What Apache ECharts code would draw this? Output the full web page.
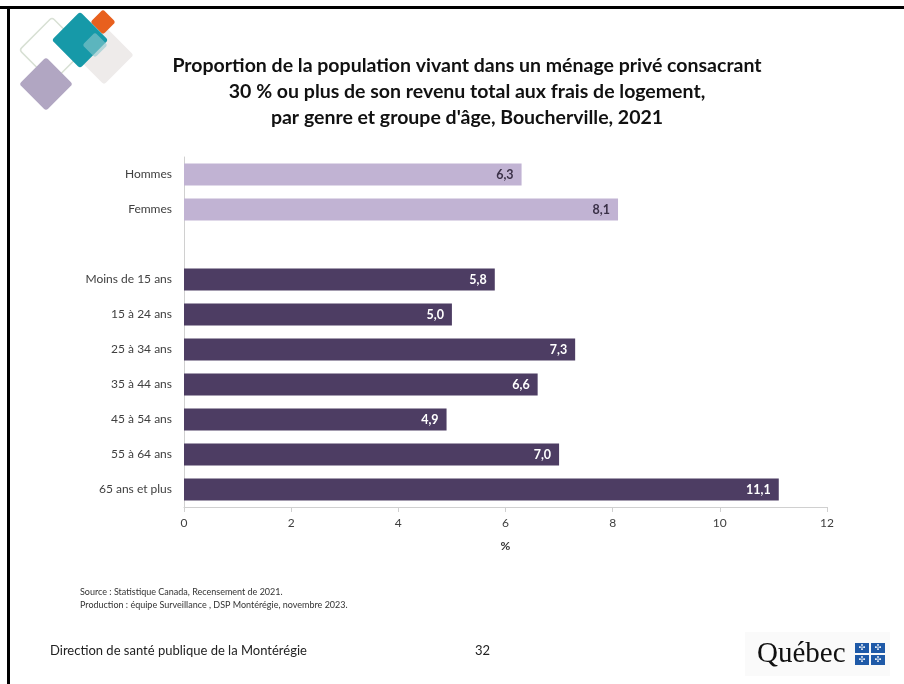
<!DOCTYPE html>
<html><head><meta charset="utf-8">
<script src="https://cdn.jsdelivr.net/npm/echarts@6/dist/echarts.min.js"></script>
<style>html,body{margin:0;padding:0;background:#fff}#c{width:904px;height:684px}</style>
</head><body><div id="c"></div>
<script>
const categories = ['Hommes','Femmes','','Moins de 15 ans','15 à 24 ans','25 à 34 ans','35 à 44 ans','45 à 54 ans','55 à 64 ans','65 ans et plus'];
const values = [6.3, 8.1, null, 5.8, 5.0, 7.3, 6.6, 4.9, 7.0, 11.1];
const groups = ['genre','genre','','age','age','age','age','age','age','age'];
const xTicks = [0, 2, 4, 6, 8, 10, 12];
const titleLines = ['Proportion de la population vivant dans un ménage privé consacrant','30 % ou plus de son revenu total aux frais de logement,',"par genre et groupe d'âge, Boucherville, 2021"];
const sourceLines = ['Source : Statistique Canada, Recensement de 2021.','Production : équipe Surveillance , DSP Montérégie, novembre 2023.'];

const colors = {genre:'#c1b3d3', age:'#4d3d63'};
const labelColors = {genre:'#3a3047', age:'#ffffff'};
const FONT = 'Lato, "Open Sans", sans-serif';

const chart = echarts.init(document.getElementById('c'));

function diamond(cx, cy, s, fill, stroke, opacity, z){
  return {type:'rect', x:cx, y:cy, rotation:Math.PI/4, originX:0, originY:0,
    shape:{x:-s/2, y:-s/2, width:s, height:s, r:3},
    style:{fill:fill, stroke:stroke||null, lineWidth:stroke?1.5:0, opacity:opacity==null?1:opacity}, z:z||1, silent:true};
}

const flagSquares = [];
[[855,643],[871,643],[855,655],[871,655]].forEach(p=>{
  flagSquares.push({type:'rect', shape:{x:p[0], y:p[1], width:14, height:10}, style:{fill:'#1f5aa8'}, z:5, silent:true});
  flagSquares.push({type:'text', x:p[0]+7, y:p[1]+5, style:{text:'✣', fill:'#fff', font:'8px DejaVu Sans', align:'center', verticalAlign:'middle'}, z:6, silent:true});
});

chart.setOption({
  animation:false,
  grid:{left:184, right:77, top:157, bottom:177, containLabel:false},
  title: titleLines.map((t,i)=>({text:t, left:462, top:51+i*26, textAlign:'center',
    textStyle:{fontFamily:FONT, fontSize:19.5, fontWeight:'bold', color:'#111'}})),
  xAxis:{type:'value', min:0, max:12, interval:2,
    name:'%', nameLocation:'middle', nameGap:33,
    nameTextStyle:{fontFamily:FONT, fontSize:12, fontWeight:'bold', color:'#333'},
    axisLine:{show:true, lineStyle:{color:'#d0d0d0', width:1}},
    axisTick:{show:true, length:5, lineStyle:{color:'#d0d0d0'}},
    splitLine:{show:false},
    axisLabel:{fontFamily:FONT, fontSize:12, color:'#404040', margin:10,
      formatter:v=>xTicks.includes(v)?String(v):''}},
  yAxis:{type:'category', data:categories, inverse:true,
    axisLine:{show:true, lineStyle:{color:'#d0d0d0'}},
    axisTick:{show:false},
    axisLabel:{fontFamily:FONT, fontSize:12, color:'#404040', margin:12}},
  series:[{type:'bar', barWidth:22,
    data: values.map((v,i)=>({value:v,
      itemStyle:{color: colors[groups[i]] || '#fff'},
      label:{color: labelColors[groups[i]] || '#fff'}})),
    label:{show:true, position:'insideRight', distance:8, fontFamily:FONT, fontSize:12.5, fontWeight:'bold',
      formatter:p=>p.value==null?'':p.value.toFixed(1).replace('.',',')}}],
  graphic:[
    {type:'line', shape:{x1:0, y1:7.5, x2:904, y2:7.5}, style:{stroke:'#000', lineWidth:3}, silent:true},
    {type:'line', shape:{x1:8.5, y1:6, x2:8.5, y2:684}, style:{stroke:'#000', lineWidth:3}, silent:true},
    diamond(52,50,46,'rgba(0,0,0,0)','#d8e0d4',1,1),
    diamond(104,55,42,'#eeebea',null,1,1),
    diamond(46,84,38,'#b1a6c2',null,1,2),
    diamond(80,40,40,'#1699a8',null,1,3),
    diamond(103,22,18,'#e8601e',null,1,2),
    diamond(95,45,18,'rgba(140,200,205,0.6)',null,1,4),
    {type:'text', left:80, top:586, style:{text:sourceLines.join('\n'), font:'9px '+FONT, fill:'#333', lineHeight:13}, silent:true},
    {type:'text', left:50, top:644, style:{text:'Direction de santé publique de la Montérégie', font:'13px '+FONT, fill:'#222'}, silent:true},
    {type:'text', left:475, top:644, style:{text:'32', font:'13px '+FONT, fill:'#222'}, silent:true},
    {type:'rect', shape:{x:745, y:632, width:145, height:44}, style:{fill:'#fafafa'}, silent:true, z:0},
    {type:'text', x:757, y:654, style:{text:'Québec', font:'29px "Liberation Serif", serif', fill:'#111', verticalAlign:'middle'}, z:5, silent:true},
    ...flagSquares
  ]
});
</script></body></html>
